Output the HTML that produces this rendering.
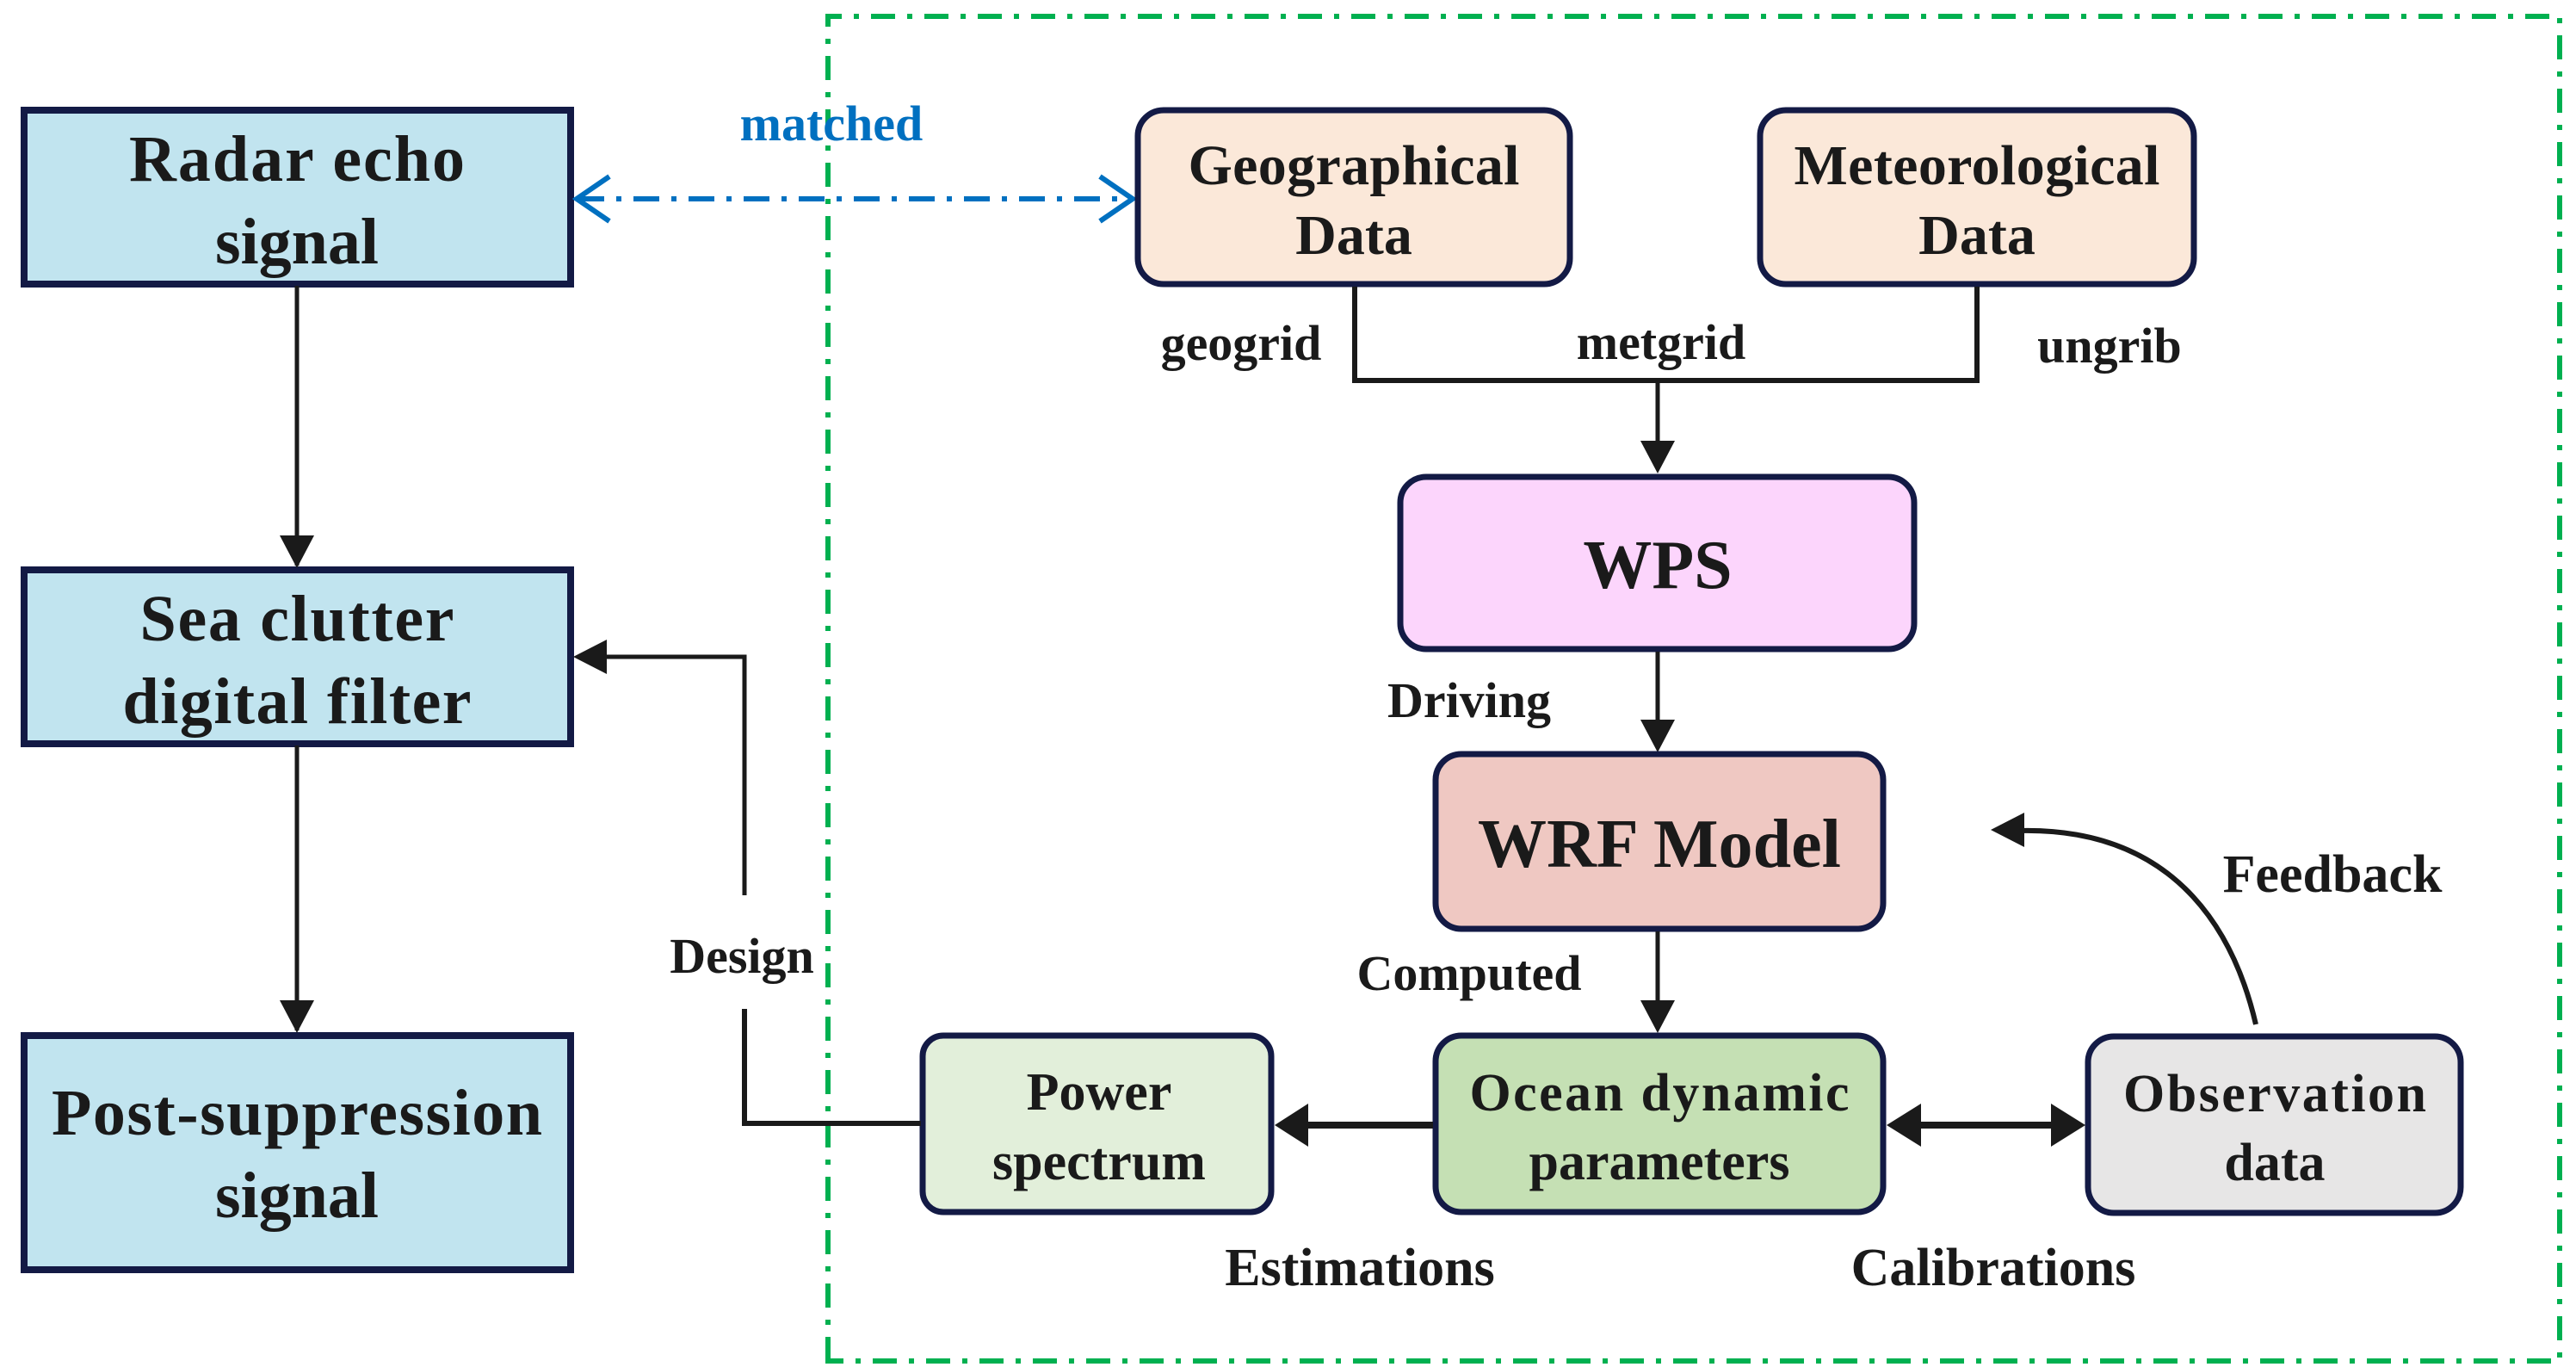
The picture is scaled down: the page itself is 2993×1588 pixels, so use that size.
<!DOCTYPE html>
<html><head><meta charset="utf-8"><style>
html,body{margin:0;padding:0;background:#fff;}
svg{display:block;}
text{font-family:"Liberation Serif",serif;font-weight:bold;fill:#1a1a1a;text-anchor:middle;}
</style></head><body>
<svg width="2993" height="1588" viewBox="0 0 2993 1588" xmlns="http://www.w3.org/2000/svg">
<!-- green dashed region -->
<path d="M962,1581 L962,19 L2974,19 L2974,1581 Z" fill="none" stroke="#00b050" stroke-width="6" stroke-dasharray="28,14,6,14"/>

<!-- left boxes -->
<rect x="28" y="128" width="635" height="202" fill="#c1e4ef" stroke="#131a45" stroke-width="8"/>
<text x="345" y="210" font-size="76" textLength="390">Radar echo</text>
<text x="345" y="306" font-size="76">signal</text>
<rect x="28" y="662" width="635" height="202" fill="#c1e4ef" stroke="#131a45" stroke-width="8"/>
<text x="345" y="744" font-size="76" textLength="365">Sea clutter</text>
<text x="345" y="840" font-size="76" textLength="405">digital filter</text>
<rect x="28" y="1203" width="635" height="272" fill="#c1e4ef" stroke="#131a45" stroke-width="8"/>
<text x="345" y="1318" font-size="76" textLength="570">Post-suppression</text>
<text x="345" y="1414" font-size="76">signal</text>

<!-- left arrows -->
<line x1="345" y1="332" x2="345" y2="657" stroke="#1a1a1a" stroke-width="5"/>
<path d="M325,622 L345,660 L365,622 Z" fill="#1a1a1a"/>
<line x1="345" y1="866" x2="345" y2="1197" stroke="#1a1a1a" stroke-width="5"/>
<path d="M325,1162 L345,1200 L365,1162 Z" fill="#1a1a1a"/>

<!-- matched arrow -->
<line x1="672" y1="231" x2="1314" y2="231" stroke="#0070c0" stroke-width="6" stroke-dasharray="30,14,6,14"/>
<path d="M708,205 L670,231 L708,257" fill="none" stroke="#0070c0" stroke-width="6"/>
<path d="M1278,205 L1316,231 L1278,257" fill="none" stroke="#0070c0" stroke-width="6"/>
<text x="966" y="163" font-size="58" style="fill:#0070c0">matched</text>

<!-- top data boxes -->
<rect x="1322" y="128" width="502" height="202" rx="30" fill="#fbe8d9" stroke="#131a45" stroke-width="7"/>
<text x="1573" y="214" font-size="66" textLength="385">Geographical</text>
<text x="1573" y="295" font-size="66">Data</text>
<rect x="2045" y="128" width="504" height="202" rx="30" fill="#fbe8d9" stroke="#131a45" stroke-width="7"/>
<text x="2297" y="214" font-size="66" textLength="425">Meteorological</text>
<text x="2297" y="295" font-size="66">Data</text>

<!-- merge connector -->
<path d="M1574,333 L1574,442 L2297,442 L2297,333" fill="none" stroke="#1a1a1a" stroke-width="6"/>
<line x1="1926" y1="442" x2="1926" y2="520" stroke="#1a1a1a" stroke-width="5"/>
<path d="M1906,512 L1926,550 L1946,512 Z" fill="#1a1a1a"/>
<text x="1442" y="418" font-size="58">geogrid</text>
<text x="1930" y="417" font-size="58">metgrid</text>
<text x="2451" y="421" font-size="58">ungrib</text>

<!-- WPS -->
<rect x="1627" y="554" width="597" height="200" rx="30" fill="#fcd5fc" stroke="#131a45" stroke-width="7"/>
<text x="1926" y="683" font-size="80">WPS</text>
<line x1="1926" y1="757" x2="1926" y2="845" stroke="#1a1a1a" stroke-width="5"/>
<path d="M1906,836 L1926,874 L1946,836 Z" fill="#1a1a1a"/>
<text x="1707" y="833" font-size="58">Driving</text>

<!-- WRF -->
<rect x="1668" y="876" width="520" height="203" rx="30" fill="#efc8c2" stroke="#131a45" stroke-width="7"/>
<text x="1928" y="1007" font-size="80" textLength="422">WRF Model</text>
<line x1="1926" y1="1082" x2="1926" y2="1170" stroke="#1a1a1a" stroke-width="5"/>
<path d="M1906,1162 L1926,1200 L1946,1162 Z" fill="#1a1a1a"/>
<text x="1707" y="1150" font-size="58">Computed</text>

<!-- Ocean -->
<rect x="1668" y="1203" width="520" height="205" rx="30" fill="#c5e0b4" stroke="#131a45" stroke-width="7"/>
<text x="1928" y="1290" font-size="62" textLength="441">Ocean dynamic</text>
<text x="1928" y="1370" font-size="62">parameters</text>

<!-- Observation -->
<rect x="2426" y="1204" width="433" height="205" rx="30" fill="#e7e6e6" stroke="#131a45" stroke-width="7"/>
<text x="2643" y="1291" font-size="62" textLength="352">Observation</text>
<text x="2643" y="1371" font-size="62">data</text>

<!-- Power -->
<rect x="1072" y="1203" width="405" height="205" rx="24" fill="#e2efda" stroke="#131a45" stroke-width="7"/>
<text x="1277" y="1289" font-size="62">Power</text>
<text x="1277" y="1370" font-size="62">spectrum</text>

<!-- Ocean <-> Obs -->
<line x1="2220" y1="1307" x2="2390" y2="1307" stroke="#1a1a1a" stroke-width="8"/>
<path d="M2232,1282 L2192,1307 L2232,1332 Z" fill="#1a1a1a"/>
<path d="M2383,1282 L2423,1307 L2383,1332 Z" fill="#1a1a1a"/>
<!-- Ocean -> Power -->
<line x1="1665" y1="1307" x2="1510" y2="1307" stroke="#1a1a1a" stroke-width="8"/>
<path d="M1520,1282 L1481,1307 L1520,1332 Z" fill="#1a1a1a"/>
<text x="1580" y="1493" font-size="62">Estimations</text>
<text x="2316" y="1493" font-size="62">Calibrations</text>

<!-- Design -->
<path d="M1070,1305 L865,1305 L865,1172" fill="none" stroke="#1a1a1a" stroke-width="6"/>
<path d="M865,1040 L865,763 L700,763" fill="none" stroke="#1a1a1a" stroke-width="5"/>
<path d="M705,743 L666,763 L705,783 Z" fill="#1a1a1a"/>
<text x="862" y="1130" font-size="58">Design</text>

<!-- Feedback -->
<path d="M2621,1190 C2600,1100 2540,960 2345,965" fill="none" stroke="#1a1a1a" stroke-width="6"/>
<path d="M2352,944 L2313,964 L2352,984 Z" fill="#1a1a1a"/>
<text x="2710" y="1036" font-size="62">Feedback</text>
</svg>
</body></html>
